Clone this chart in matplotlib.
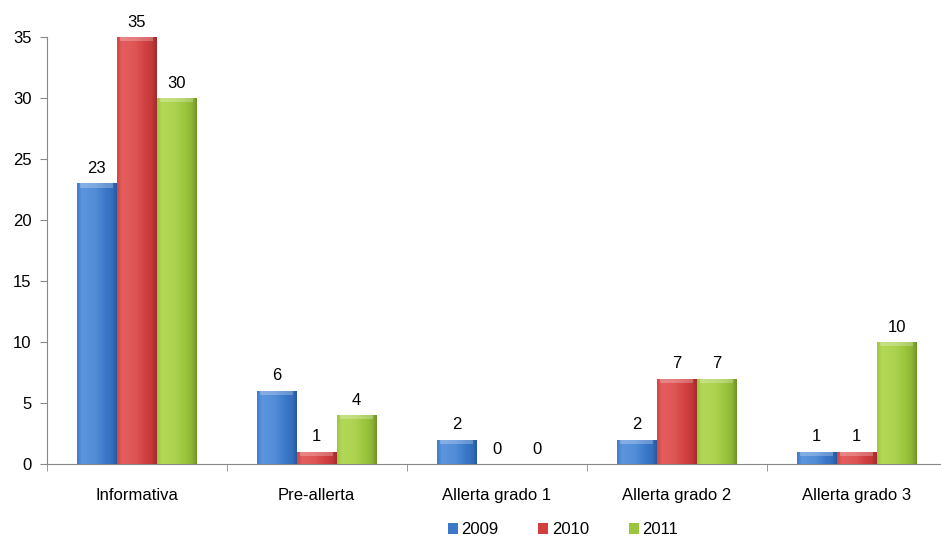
import numpy as np
import matplotlib.pyplot as plt
from matplotlib.colors import LinearSegmentedColormap

plt.rcParams['font.family'] = ['Liberation Sans', 'DejaVu Sans']

categories = ['Informativa', 'Pre-allerta', 'Allerta grado 1', 'Allerta grado 2', 'Allerta grado 3']
years = ['2009', '2010', '2011']
v2009 = [23, 6, 2, 2, 1]
v2010 = [35, 1, 0, 7, 1]
v2011 = [30, 4, 0, 7, 10]
series = [v2009, v2010, v2011]

# base, light, dark for each series
colors = [('#3b78c9', '#6aa2e6', '#275a9e'),
          ('#d13f3f', '#ec6b6b', '#a12b2b'),
          ('#9bc53d', '#bde063', '#6f9428')]

fig = plt.figure(figsize=(9.41, 5.42), dpi=100)
ax = fig.add_axes([0.0496, 0.1439, 0.9564, 0.7878])

x = np.arange(len(categories))
w = 0.222
grad = np.linspace(0, 1, 64)
profile = np.interp(grad, [0, 0.12, 0.45, 0.88, 1], [0.55, 0.85, 0.75, 0.35, 0.0])
fs = 12

for i, (vals, yr, (base, light, dark)) in enumerate(zip(series, years, colors)):
    bars = ax.bar(x + (i - 1) * w, vals, w, color=base, label=yr, edgecolor='none', zorder=2)
    cmap = LinearSegmentedColormap.from_list('c%d' % i, [dark, base, light])
    for b, v in zip(bars, vals):
        if v > 0:
            x0, y0 = b.get_x(), b.get_y()
            bw, bh = b.get_width(), b.get_height()
            img = ax.imshow(profile[np.newaxis, :], cmap=cmap, vmin=0, vmax=1,
                            extent=[x0, x0 + bw, y0, y0 + bh], aspect='auto',
                            zorder=3, interpolation='bicubic')
            img.set_clip_path(b)
            # top bevel highlight
            top = min(0.35, bh * 0.5)
            ax.fill_between([x0 + bw * 0.08, x0 + bw * 0.92], y0 + bh - top, y0 + bh,
                            color='white', alpha=0.25, lw=0, zorder=4)
        ax.text(b.get_x() + b.get_width() / 2, v + 0.6, str(v), ha='center', va='bottom',
                fontsize=fs, zorder=5)

ax.set_xlim(-0.5, len(categories) - 0.5)
ax.set_ylim(0, 35)
ax.set_yticks(range(0, 36, 5))
ax.set_xticks(x)
ax.set_xticklabels(categories, fontsize=fs)
ax.set_xticks(np.arange(-0.5, len(categories), 1), minor=True)
ax.tick_params(axis='x', which='major', length=0, pad=17)
ax.tick_params(axis='x', which='minor', length=5, color='#888888')
ax.tick_params(axis='y', length=5, color='#888888', labelsize=fs, pad=6)

for s in ['top', 'right']:
    ax.spines[s].set_visible(False)
for s in ['left', 'bottom']:
    ax.spines[s].set_color('#888888')

fig.legend(*ax.get_legend_handles_labels(), loc='center', bbox_to_anchor=(563 / 941, 12 / 542),
           ncol=3, frameon=False, fontsize=fs, handlelength=0.6, handleheight=0.6,
           handletextpad=0.2, columnspacing=2.4)

fig.savefig('out.png', dpi=100)
